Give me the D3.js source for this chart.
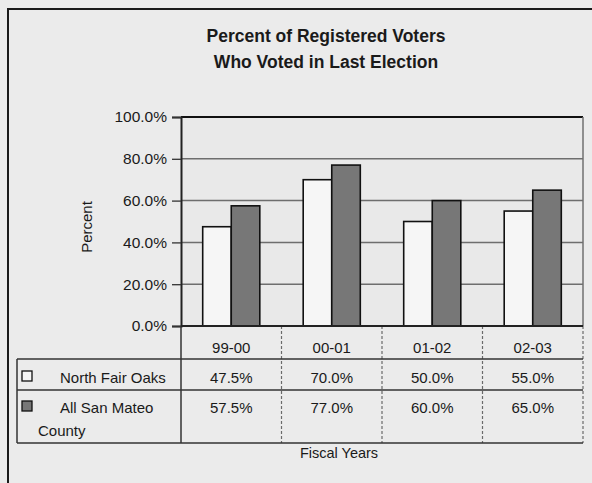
<!DOCTYPE html>
<html>
<head>
<meta charset="utf-8">
<script src="https://cdn.jsdelivr.net/npm/d3@7"></script>
<style>
  html, body { margin: 0; padding: 0; background: #ebebeb; }
  svg { display: block; }
  text { font-family: "Liberation Sans", Arial, sans-serif; fill: #1a1a1a; }
</style>
</head>
<body>
<svg id="chart" width="592" height="483"></svg>
<script>
const titleLines = ["Percent of Registered Voters", "Who Voted in Last Election"];
const categories = ["99-00", "00-01", "01-02", "02-03"];
const seriesNames = ["North Fair Oaks", "All San Mateo County"];
const northFairOaks = [47.5, 70.0, 50.0, 55.0];
const allSanMateo = [57.5, 77.0, 60.0, 65.0];
const yTicks = [0, 20, 40, 60, 80, 100];
const yAxisTitle = "Percent";
const xAxisTitle = "Fiscal Years";

const series = [
  { name: seriesNames[0], values: northFairOaks, fill: "#f6f6f6" },
  { name: seriesNames[1], values: allSanMateo, fill: "#777777" }
];

const svg = d3.select("#chart");
const W = 592, H = 483;
const plot = { left: 181, right: 583, top: 117, bottom: 326 };

svg.append("rect").attr("x", 0).attr("y", 0).attr("width", W).attr("height", H).attr("fill", "#ebebeb");
svg.append("path").attr("d", `M8,${H + 5} L8,9 L${W + 5},9`)
  .attr("fill", "none").attr("stroke", "#1a1a1a").attr("stroke-width", 2);

svg.selectAll("text.title").data(titleLines).join("text")
  .attr("class", "title")
  .attr("x", 326).attr("y", (d, i) => 42 + i * 26)
  .attr("text-anchor", "middle")
  .attr("font-size", 17.5).attr("font-weight", "bold")
  .text(d => d);

const x = d3.scaleBand().domain(categories).range([plot.left, plot.right]).padding(0);
const xs = d3.scaleBand().domain(d3.range(series.length)).range([0, x.bandwidth()])
  .paddingInner(0).paddingOuter(0.76);
const y = d3.scaleLinear().domain([0, 100]).range([plot.bottom, plot.top]);

svg.append("rect").attr("x", plot.left).attr("y", plot.top)
  .attr("width", plot.right - plot.left).attr("height", plot.bottom - plot.top)
  .attr("fill", "#e9e9e9");

svg.append("g").selectAll("line").data(yTicks.filter(t => t > 0 && t < 100)).join("line")
  .attr("x1", plot.left).attr("x2", plot.right)
  .attr("y1", d => y(d)).attr("y2", d => y(d))
  .attr("stroke", "#6e6e6e").attr("stroke-width", 1.5);

series.forEach((s, si) => {
  svg.append("g").selectAll("rect").data(categories).join("rect")
    .attr("x", c => x(c) + xs(si))
    .attr("y", (c, i) => y(s.values[i]))
    .attr("width", xs.bandwidth())
    .attr("height", (c, i) => y(0) - y(s.values[i]))
    .attr("fill", s.fill)
    .attr("stroke", "#111").attr("stroke-width", 1.6);
});

svg.append("line").attr("x1", plot.left).attr("x2", plot.right).attr("y1", plot.top).attr("y2", plot.top)
  .attr("stroke", "#111").attr("stroke-width", 2);
svg.append("line").attr("x1", plot.right).attr("x2", plot.right).attr("y1", plot.top).attr("y2", plot.bottom)
  .attr("stroke", "#707070").attr("stroke-width", 1.5);

const yAxis = d3.axisLeft(y).tickValues(yTicks).tickSize(9).tickPadding(5)
  .tickFormat(d => d3.format(".1f")(d) + "%");
const ya = svg.append("g").attr("transform", `translate(${plot.left},0)`).call(yAxis);
ya.select(".domain").attr("stroke", "#222").attr("stroke-width", 2);
ya.selectAll(".tick line").attr("stroke", "#333").attr("stroke-width", 1.3);
ya.selectAll(".tick text").attr("font-size", 15.5).attr("fill", "#1a1a1a")
  .attr("font-family", "'Liberation Sans', Arial, sans-serif");

svg.append("text").attr("transform", "translate(92,227) rotate(-90)")
  .attr("text-anchor", "middle").attr("font-size", 15).text(yAxisTitle);

const tbl = { left: 17, right: 583, hTop: plot.bottom, hBot: 359, r1Bot: 390, r2Bot: 443 };

const xAxis = d3.axisBottom(x).tickSize(0).tickPadding(16);
const xa = svg.append("g").attr("transform", `translate(0,${plot.bottom})`).call(xAxis);
xa.select(".domain").remove();
xa.selectAll(".tick text").attr("font-size", 15).attr("fill", "#1a1a1a")
  .attr("font-family", "'Liberation Sans', Arial, sans-serif");

const bounds = categories.map(c => x(c)).concat([plot.right]);
svg.append("g").selectAll("line").data(bounds).join("line")
  .attr("x1", d => d).attr("x2", d => d)
  .attr("y1", tbl.hTop).attr("y2", tbl.r2Bot)
  .attr("stroke", (d, i) => i === 0 ? "#333" : "#6a6a6a")
  .attr("stroke-width", (d, i) => i === 0 ? 1.5 : 1.2)
  .attr("stroke-dasharray", (d, i) => i === 0 ? null : "3,2");

[tbl.hBot, tbl.r1Bot, tbl.r2Bot].forEach(yy => {
  svg.append("line").attr("x1", tbl.left).attr("x2", tbl.right).attr("y1", yy).attr("y2", yy)
    .attr("stroke", "#333").attr("stroke-width", 1.6);
});
svg.append("line").attr("x1", tbl.left).attr("x2", tbl.left).attr("y1", tbl.hBot).attr("y2", tbl.r2Bot)
  .attr("stroke", "#333").attr("stroke-width", 1.5);

svg.append("line").attr("x1", plot.left).attr("x2", plot.right).attr("y1", plot.bottom).attr("y2", plot.bottom)
  .attr("stroke", "#222").attr("stroke-width", 2);

const rowBase = [383, 413];
series.forEach((s, si) => {
  svg.append("rect").attr("x", 22).attr("y", rowBase[si] - 12).attr("width", 10).attr("height", 10)
    .attr("fill", s.fill).attr("stroke", "#111").attr("stroke-width", 1.3);
  svg.append("g").selectAll("text").data(categories).join("text")
    .attr("x", c => x(c) + x.bandwidth() / 2)
    .attr("y", rowBase[si])
    .attr("text-anchor", "middle").attr("font-size", 15)
    .text((c, i) => d3.format(".1f")(s.values[i]) + "%");
});
svg.append("text").attr("x", 60).attr("y", rowBase[0]).attr("font-size", 15).text(seriesNames[0]);
const parts = seriesNames[1].split(" ");
svg.append("text").attr("x", 60).attr("y", rowBase[1]).attr("font-size", 15).text(parts.slice(0, 3).join(" "));
svg.append("text").attr("x", 38).attr("y", 436).attr("font-size", 15).text(parts.slice(3).join(" "));

svg.append("text").attr("x", 339).attr("y", 458).attr("text-anchor", "middle")
  .attr("font-size", 14.5).text(xAxisTitle);
</script>
</body>
</html>
